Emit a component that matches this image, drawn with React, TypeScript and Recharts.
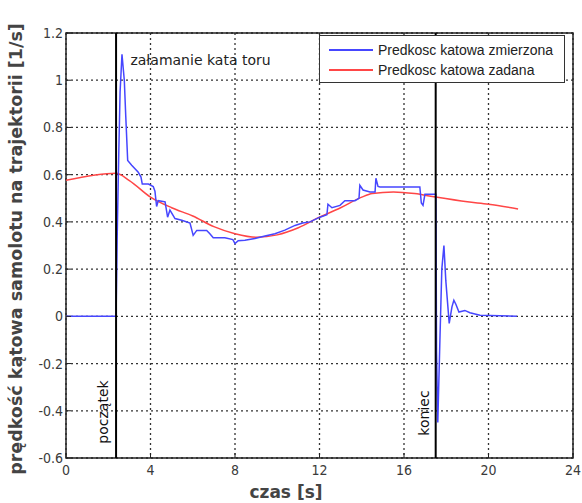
import React from 'react';
import {
  LineChart, Line, XAxis, YAxis, CartesianGrid, ReferenceLine, ReferenceDot, ReferenceArea, Label,
} from 'recharts';

const measuredT = [0, 2.37, 2.42, 2.5, 2.56, 2.65, 2.76, 2.83, 2.92, 3.11, 3.42, 3.55, 3.61, 3.9, 4.13, 4.21, 4.29, 4.37, 4.69, 4.81, 4.92, 5.16, 5.48, 5.87, 6.02, 6.19, 6.66, 6.81, 6.97, 7.52, 7.9, 8.0, 8.15, 8.47, 8.94, 9.42, 9.89, 10.36, 10.84, 11.2, 11.55, 12.02, 12.35, 12.4, 12.59, 12.97, 13.2, 13.68, 13.87, 13.91, 14.06, 14.39, 14.63, 14.67, 14.77, 14.86, 16.75, 16.82, 16.9, 16.99, 17.51, 17.54, 17.6, 17.7, 17.79, 17.89, 17.98, 18.14, 18.27, 18.36, 18.46, 18.6, 18.88, 19.12, 19.6, 21.34];
const measuredV = [0, 0, 0.32, 0.7, 0.95, 1.11, 1.0, 0.845, 0.66, 0.64, 0.61, 0.59, 0.56, 0.56, 0.55, 0.53, 0.465, 0.49, 0.485, 0.42, 0.45, 0.414, 0.407, 0.395, 0.343, 0.364, 0.364, 0.35, 0.333, 0.333, 0.325, 0.308, 0.32, 0.322, 0.33, 0.34, 0.35, 0.365, 0.385, 0.395, 0.4, 0.42, 0.43, 0.475, 0.46, 0.47, 0.49, 0.49, 0.5, 0.555, 0.535, 0.527, 0.527, 0.585, 0.55, 0.548, 0.548, 0.48, 0.47, 0.517, 0.517, -0.15, -0.45, -0.1, 0.2, 0.3, 0.15, -0.03, 0.04, 0.068, 0.05, 0.018, 0.025, 0.015, 0.005, 0];

const setT = [0, 2.37, 3, 4, 5, 6, 7, 8, 9, 10, 11, 12, 13, 14, 14.5, 15.5, 16.5, 17.5, 19, 20, 21.4];
const setV = [0.576, 0.606, 0.575, 0.505, 0.46, 0.425, 0.38, 0.35, 0.335, 0.345, 0.375, 0.42, 0.46, 0.505, 0.52, 0.527, 0.52, 0.505, 0.485, 0.475, 0.455];

const xTicks = [0, 4, 8, 12, 16, 20, 24];
const yTicks = [-0.6, -0.4, -0.2, 0, 0.2, 0.4, 0.6, 0.8, 1, 1.2];

const startT = 2.37;
const endT = 17.5;

const seriesNames = ['Predkosc katowa zmierzona', 'Predkosc katowa zadana'];
const yLabel = 'prędkość kątowa samolotu na trajektorii [1/s]';
const xLabel = 'czas [s]';
const noteText = 'załamanie kata toru';
const startText = 'początek';
const endText = 'koniec';

const measured = measuredT.map((t, i) => ({ t, v: measuredV[i] }));
const setpoint = setT.map((t, i) => ({ t, v: setV[i] }));

const BLUE = '#4646ff';
const RED = '#ff4646';
const TICK_FONT = '"DejaVu Sans Condensed", "Liberation Sans Narrow", "Liberation Sans", sans-serif';

const fmt = (v: number) => String(Number(v.toFixed(1)));

const LeftTick = (props: any) => {
  const { x, y, payload } = props;
  return (
    <g>
      <line x1={x} x2={x + 5} y1={y} y2={y} stroke="#222" strokeWidth={1} />
      <text x={x - 3} y={y} dy={5} textAnchor="end" fontSize={14} fill="#3a3a3a" fontFamily={TICK_FONT}>
        {fmt(payload.value)}
      </text>
    </g>
  );
};

const RightTick = (props: any) => {
  const { x, y } = props;
  return <line x1={x} x2={x - 5} y1={y} y2={y} stroke="#222" strokeWidth={1} />;
};

const BottomTick = (props: any) => {
  const { x, y, payload } = props;
  return (
    <g>
      <line x1={x} x2={x} y1={y} y2={y - 5} stroke="#222" strokeWidth={1} />
      <text x={x} y={y + 17} textAnchor="middle" fontSize={14} fill="#3a3a3a" fontFamily={TICK_FONT}>
        {fmt(payload.value)}
      </text>
    </g>
  );
};

const TopTick = (props: any) => {
  const { x, y } = props;
  return <line x1={x} x2={x} y1={y} y2={y + 5} stroke="#222" strokeWidth={1} />;
};

const LegendBox = () => (
  <div
    style={{
      position: 'absolute',
      left: 319,
      top: 35,
      width: 246,
      height: 48,
      border: '1.5px solid #333',
      background: '#fff',
      boxSizing: 'border-box',
      paddingTop: 4,
      fontFamily: '"Liberation Sans", Arial, sans-serif',
      fontSize: 14,
      color: '#222',
    }}
  >
    {[BLUE, RED].map((c, i) => (
      <div key={i} style={{ display: 'flex', alignItems: 'center', height: 20 }}>
        <div style={{ width: 44, height: 2, background: c, marginLeft: 9, marginRight: 5 }} />
        <span>{seriesNames[i]}</span>
      </div>
    ))}
  </div>
);

export default function App() {
  return (
    <div style={{ position: 'absolute', left: 0, top: 0, width: 582, height: 503, background: '#fff' }}>
      <LineChart width={582} height={503} margin={{ top: 33, right: 9, bottom: 0, left: 0 }}>
        <CartesianGrid xAxisId="b" yAxisId="l" stroke="#333" strokeDasharray="2 3" strokeWidth={1.3} />
        <XAxis
          xAxisId="b"
          dataKey="t"
          type="number"
          domain={[0, 24]}
          ticks={xTicks}
          allowDataOverflow
          height={45}
          axisLine={false}
          tickLine={false}
          tickSize={0}
          tickMargin={0}
          tick={<BottomTick />}
        >
          <Label
            content={() => (
              <text x={286} y={498} textAnchor="middle" fontSize={17} fontWeight="bold" fill="#444" fontFamily='"DejaVu Sans", sans-serif'>
                {xLabel}
              </text>
            )}
          />
        </XAxis>
        <XAxis
          xAxisId="top"
          orientation="top"
          dataKey="t"
          type="number"
          domain={[0, 24]}
          ticks={xTicks}
          height={0}
          axisLine={false}
          tickLine={false}
          tickSize={0}
          tickMargin={0}
          tick={<TopTick />}
        />
        <YAxis
          yAxisId="l"
          type="number"
          domain={[-0.6, 1.2]}
          ticks={yTicks}
          allowDataOverflow
          width={66}
          axisLine={false}
          tickLine={false}
          tickSize={0}
          tickMargin={0}
          tick={<LeftTick />}
        >
          <Label
            content={() => (
              <text
                x={22}
                y={249}
                transform="rotate(-90 22 249)"
                textAnchor="middle"
                fontSize={17.5}
                fontWeight="bold"
                fill="#444"
                fontFamily='"DejaVu Sans", sans-serif'
              >
                {yLabel}
              </text>
            )}
          />
        </YAxis>
        <YAxis
          yAxisId="r"
          orientation="right"
          type="number"
          domain={[-0.6, 1.2]}
          ticks={yTicks}
          width={0}
          axisLine={false}
          tickLine={false}
          tickSize={0}
          tickMargin={0}
          tick={<RightTick />}
        />
        <ReferenceArea xAxisId="b" yAxisId="l" x1={0} x2={24} y1={-0.6} y2={1.2} fill="none" stroke="#222" strokeWidth={1.5} ifOverflow="visible" />
        <Line
          xAxisId="b"
          yAxisId="l"
          data={setpoint}
          dataKey="v"
          type="monotone"
          stroke={RED}
          strokeWidth={1.5}
          dot={false}
          isAnimationActive={false}
          name={seriesNames[1]}
        />
        <Line
          xAxisId="b"
          yAxisId="l"
          data={measured}
          dataKey="v"
          type="linear"
          stroke={BLUE}
          strokeWidth={1.5}
          dot={false}
          isAnimationActive={false}
          name={seriesNames[0]}
        />
        <ReferenceLine
          xAxisId="b"
          yAxisId="l"
          x={startT}
          stroke="#000"
          strokeWidth={2}
          label={(p: any) => {
            const vb = p.viewBox;
            const cx = vb.x - 13;
            const cy = 412;
            return (
              <text x={cx} y={cy} transform={`rotate(-90 ${cx} ${cy})`} textAnchor="middle" dy={5} fontSize={14} fill="#111" fontFamily='"DejaVu Sans", sans-serif'>
                {startText}
              </text>
            );
          }}
        />
        <ReferenceLine
          xAxisId="b"
          yAxisId="l"
          x={endT}
          stroke="#000"
          strokeWidth={2}
          label={(p: any) => {
            const vb = p.viewBox;
            const cx = vb.x - 12;
            const cy = 413;
            return (
              <text x={cx} y={cy} transform={`rotate(-90 ${cx} ${cy})`} textAnchor="middle" dy={5} fontSize={14} fill="#111" fontFamily='"DejaVu Sans", sans-serif'>
                {endText}
              </text>
            );
          }}
        />
        <ReferenceDot
          xAxisId="b"
          yAxisId="l"
          x={3.05}
          y={1.085}
          r={0}
          fill="none"
          stroke="none"
          label={(p: any) => {
            const vb = p.viewBox;
            return (
              <text x={vb.x} y={vb.y + 5} fontSize={14} fill="#222" fontFamily='"DejaVu Sans", sans-serif'>
                {noteText}
              </text>
            );
          }}
        />
      </LineChart>
      <LegendBox />
    </div>
  );
}
